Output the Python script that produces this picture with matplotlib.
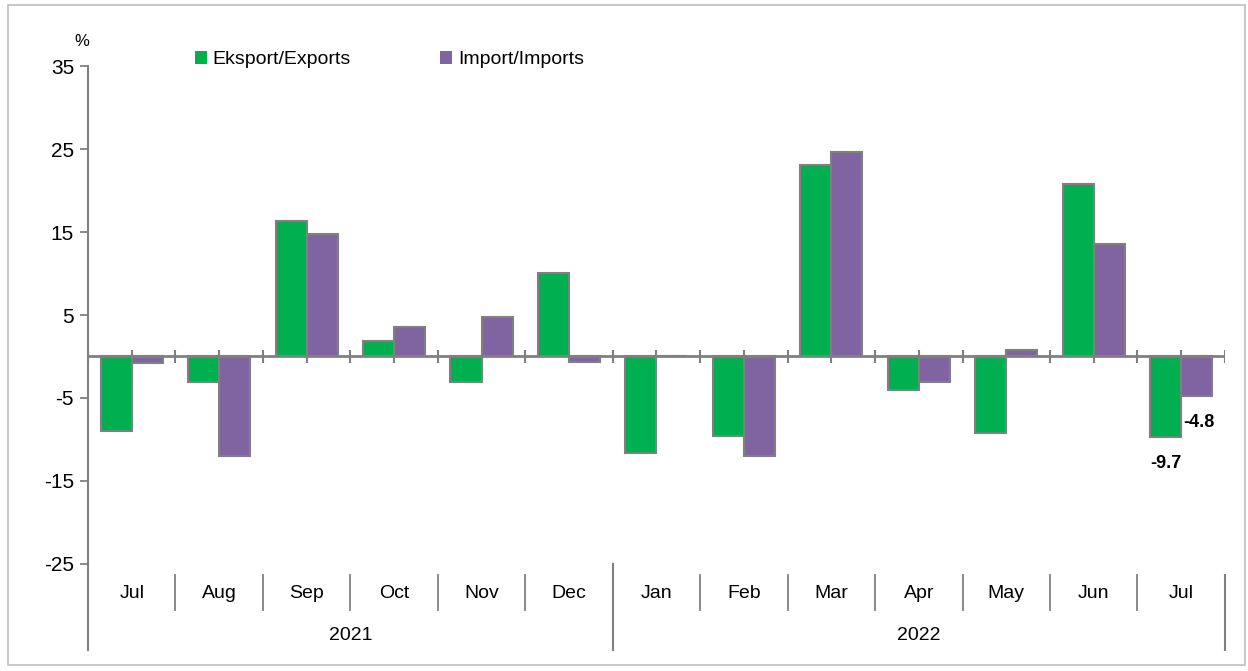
import numpy as np
import matplotlib.pyplot as plt
from matplotlib.patches import Rectangle, Patch

plt.rcParams['font.family'] = ['Liberation Sans Narrow', 'Liberation Sans', 'DejaVu Sans']
plt.rcParams['axes.unicode_minus'] = False

months = ["Jul", "Aug", "Sep", "Oct", "Nov", "Dec",
          "Jan", "Feb", "Mar", "Apr", "May", "Jun", "Jul"]
years = ["2021", "2022"]
year_spans = [(0, 6), (6, 13)]
exports = [-9.0, -3.1, 16.3, 1.9, -3.1, 10.1, -11.6, -9.6, 23.1, -4.0, -9.2, 20.8, -9.7]
imports = [-0.8, -12.0, 14.8, 3.6, 4.8, -0.7, 0.1, -12.0, 24.6, -3.1, 0.8, 13.5, -4.8]

green = "#00B050"
purple = "#8064A2"
grey = "#808080"

fig = plt.figure(figsize=(12.48, 6.71), dpi=100)
ax = fig.add_axes([0.0705, 0.1595, 0.911, 0.7421])

x = np.arange(len(months))
w = 0.355
ax.bar(x - w / 2, exports, w, color=green, edgecolor=grey, linewidth=1.5, zorder=3)
ax.bar(x + w / 2, imports, w, color=purple, edgecolor=grey, linewidth=1.5, zorder=3)

ax.set_xlim(-0.5, len(months) - 0.5)
ax.set_ylim(-25, 35)
ax.set_yticks(range(-25, 36, 10))
ax.tick_params(axis='y', direction='out', length=6, width=1.3, color=grey,
               labelsize=15, pad=4)

for s in ["top", "right", "bottom"]:
    ax.spines[s].set_visible(False)
ax.spines["left"].set_color(grey)
ax.spines["left"].set_linewidth(1.5)
ax.spines["left"].set_bounds(-25, 35)

# zero line with ticks at category boundaries and centres
ax.axhline(0, color=grey, lw=2, zorder=4)
ticks0 = np.arange(-0.5, len(months) - 0.4, 0.5)
ax.vlines(ticks0, -0.75, 0.75, color=grey, lw=1.5, zorder=4)

# category axis below
ax.set_xticks(x)
ax.set_xticklabels([])
ax.tick_params(axis='x', length=0)
tr = ax.get_xaxis_transform()
for i, m in enumerate(months):
    ax.text(i, -0.06, m, transform=tr, ha='center', va='center', fontsize=14)
for i in range(1, len(months)):
    ax.plot([i - 0.5, i - 0.5], [-0.022, -0.092], transform=tr, color=grey,
            lw=1.3, clip_on=False)
for (a, b), yr in zip(year_spans, years):
    ax.text((a + b - 1) / 2, -0.143, yr, transform=tr, ha='center', va='center',
            fontsize=14)
    ax.plot([a - 0.5, a - 0.5], [0.0, -0.173], transform=tr, color=grey,
            lw=1.5, clip_on=False)
ax.plot([len(months) - 0.5] * 2, [-0.022, -0.173], transform=tr, color=grey,
        lw=1.5, clip_on=False)

# labels for last month
n = len(months) - 1
ax.text(n - w / 2, exports[n] - 3.2, f"{exports[n]:.1f}", ha='center', va='center',
        fontsize=13, fontweight='bold')
ax.text(n + w / 2 + 0.02, imports[n] - 3.2, f"{imports[n]:.1f}", ha='center', va='center',
        fontsize=13, fontweight='bold')

ax.text(-0.005, 1.035, "%", transform=ax.transAxes, ha='center', va='bottom', fontsize=12)

handles = [Patch(facecolor=green, edgecolor='none'), Patch(facecolor=purple, edgecolor='none')]
ax.legend(handles, ["Eksport/Exports", "Import/Imports"], loc='upper left',
          bbox_to_anchor=(0.079, 1.065), ncol=2, frameon=False, fontsize=14,
          handlelength=0.6, handleheight=0.6, handletextpad=0.3, columnspacing=4.6)

fig.patches.append(Rectangle((0.0065, 0.009), 0.991, 0.984, transform=fig.transFigure,
                             fill=False, edgecolor="#BFBFBF", lw=1.2))

fig.savefig("out.png", dpi=100)
